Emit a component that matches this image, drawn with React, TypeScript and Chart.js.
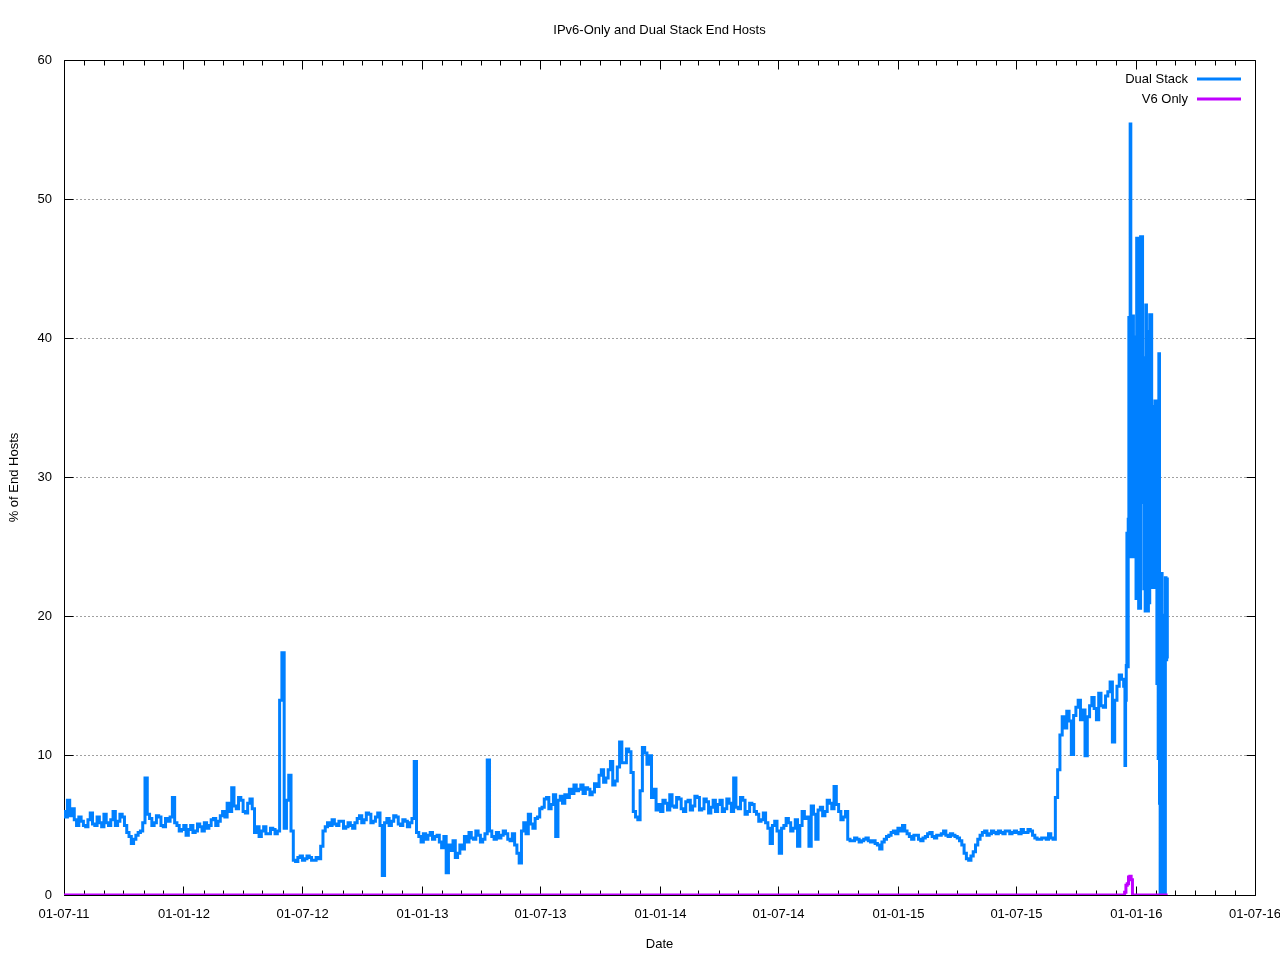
import React, { useEffect, useRef } from 'react';
import { Chart, registerables } from 'chart.js';

Chart.register(...registerables);

const TITLE = 'IPv6-Only and Dual Stack End Hosts';
const X_TITLE = 'Date';
const Y_TITLE = '% of End Hosts';
const SERIES_NAMES = ['Dual Stack', 'V6 Only'];
const SERIES_COLORS = ['#0080ff', '#c000ff'];

const X_TICK_LABELS = [
  '01-07-11', '01-01-12', '01-07-12', '01-01-13', '01-07-13', '01-01-14',
  '01-07-14', '01-01-15', '01-07-15', '01-01-16', '01-07-16',
];
const Y_MIN = 0;
const Y_MAX = 60;
const Y_STEP = 10;

// Dual Stack: half-weekly samples from 01-07-11 (day 0, 3.5-day step)
const DUAL_START_DAY = 0;
const DUAL_STEP = 3.5;
const dualHalfWeekly = [
  6.0, 5.6, 6.8, 5.7, 6.2, 5.4, 5.0, 5.6, 5.3, 5.0,
  4.9, 5.4, 5.9, 5.1, 5.0, 5.6, 5.2, 4.9, 5.8, 5.2,
  5.0, 5.4, 6.0, 5.0, 5.3, 5.8, 5.6, 5.0, 4.5, 4.2,
  3.7, 4.0, 4.3, 4.5, 4.6, 5.2, 8.4, 5.8, 5.5, 5.0,
  5.2, 5.7, 5.6, 5.0, 4.9, 5.5, 5.3, 5.6, 7.0, 5.2,
  5.0, 4.6, 4.7, 5.0, 4.3, 4.7, 5.0, 4.5, 4.6, 5.1,
  4.9, 4.6, 5.2, 4.8, 5.0, 5.4, 5.5, 5.0, 5.3, 5.7,
  6.0, 5.6, 6.6, 6.0, 7.7, 6.4, 6.2, 7.0, 6.8, 6.0,
  5.9, 6.6, 6.9, 6.2, 4.5, 4.9, 4.2, 4.6, 4.9, 4.4,
  4.4, 4.8, 4.7, 4.4, 4.6, 14.0, 17.4, 4.8, 6.8, 8.6,
  4.6, 2.5, 2.4, 2.7, 2.8, 2.5, 2.6, 2.8, 2.7, 2.5,
  2.5, 2.7, 2.6, 3.5, 4.6, 4.9, 5.2, 5.0, 5.4, 5.1,
  5.0, 5.3, 5.3, 4.8, 4.9, 5.2, 5.0, 4.8, 5.2, 5.5,
  5.7, 5.2, 5.4, 5.9, 5.8, 5.2, 5.3, 5.6, 5.9, 5.0,
  1.4, 5.2, 5.5, 5.0, 5.3, 5.7, 5.6, 5.1, 5.0, 5.4,
  5.3, 4.9, 5.2, 5.5, 9.6, 4.5, 4.2, 3.8, 4.4, 4.0,
  4.3, 4.5, 4.0, 4.2, 4.3, 3.8, 3.4, 4.2, 1.6, 3.6,
  3.2, 3.9, 2.7, 3.0, 3.6, 3.3, 4.2, 3.8, 4.5, 4.1,
  4.0, 4.6, 4.3, 3.8, 4.0, 4.4, 9.7, 4.6, 4.2, 4.0,
  4.5, 4.1, 4.3, 4.6, 4.4, 4.0, 3.9, 4.4, 3.6, 3.0,
  2.3, 4.6, 5.2, 4.4, 5.8, 5.1, 4.8, 5.5, 5.6, 6.2,
  6.3, 6.9, 7.0, 6.2, 6.5, 7.2, 4.2, 6.8, 7.1, 6.6,
  7.2, 7.0, 7.6, 7.3, 7.9, 7.5, 7.6, 7.9, 7.3, 7.7,
  7.6, 7.2, 7.4, 8.0, 7.8, 8.6, 9.0, 8.1, 8.4, 9.0,
  9.6, 7.9, 8.2, 9.2, 11.0, 9.5, 9.5, 10.5, 10.3, 8.8,
  6.0, 5.6, 5.4, 7.5, 10.6, 10.2, 9.4, 10.0, 7.0, 7.6,
  6.1, 6.5, 6.0, 6.8, 6.6, 6.1, 7.2, 6.4, 6.3, 7.0,
  6.9, 6.2, 6.0, 6.7, 6.8, 6.1, 6.4, 7.1, 7.0, 6.1,
  6.2, 6.9, 6.7, 5.9, 6.3, 6.8, 6.0, 6.5, 6.8, 6.0,
  6.2, 6.9, 6.6, 6.0, 8.4, 6.3, 6.2, 7.0, 6.8, 5.8,
  6.0, 6.6, 6.5, 6.0, 5.8, 5.3, 5.4, 5.9, 5.2, 4.8,
  3.7, 5.0, 5.3, 4.6, 3.0, 4.8, 5.0, 5.5, 5.2, 4.6,
  4.8, 5.4, 3.5, 5.0, 6.0, 5.5, 5.6, 3.5, 6.4, 5.8,
  4.0, 6.1, 6.3, 5.7, 6.0, 6.8, 6.6, 6.2, 7.8, 6.5,
  6.0, 5.4, 5.6, 6.0, 4.0, 3.9, 3.9, 4.1, 4.0, 3.8,
  3.9, 4.0, 4.1, 3.9, 3.8, 3.9, 3.7, 3.6, 3.3, 3.8,
  4.0, 4.2, 4.3, 4.5, 4.6, 4.4, 4.8, 4.6, 5.0, 4.6,
  4.4, 4.2, 4.0, 4.3, 4.3, 4.0, 3.9, 4.1, 4.2, 4.4,
  4.5, 4.2, 4.1, 4.3, 4.3, 4.4, 4.6, 4.3, 4.2, 4.4,
  4.3, 4.2, 4.1, 3.9, 3.6, 3.0, 2.6, 2.5, 2.8, 3.1,
  3.6, 4.0, 4.3, 4.5, 4.6, 4.3, 4.4, 4.6, 4.5, 4.4,
  4.6, 4.5, 4.4, 4.6, 4.6, 4.4, 4.5, 4.6, 4.5, 4.4,
  4.7, 4.5, 4.5, 4.7, 4.6, 4.3, 4.1, 4.0, 4.0, 4.1,
  4.1, 4.0, 4.4, 4.1, 4.0, 7.0, 9.0, 11.5, 12.8, 12.0,
  13.2, 12.5, 10.1, 12.9, 13.5, 14.0, 12.6, 13.3, 10.0, 12.8,
  13.6, 14.2, 13.4, 12.6, 14.5, 13.6, 13.5, 14.3, 14.6, 15.3,
  11.0, 14.0, 15.0, 15.8, 15.5,
];

// Dual Stack: daily samples over the end-of-2015 burst (from day 1627)
const DUAL_TAIL_START_DAY = 1627;
const DUAL_TAIL_STEP = 1;
const dualTail = [
  15.0, 9.3, 14.0, 16.5, 26.0, 16.4, 27.0, 41.5, 24.3, 55.4,
  26.0, 41.6, 24.3, 41.6, 24.3, 40.1, 26.0, 40.1, 21.3, 47.2,
  21.3, 47.2, 20.6, 40.0, 20.6, 47.3, 28.2, 47.3, 28.2, 38.6,
  22.0, 38.6, 20.4, 42.4, 21.4, 40.5, 20.4, 34.3, 21.0, 41.7,
  22.1, 41.7, 22.1, 33.0, 22.1, 35.1, 22.1, 35.5, 22.5, 35.5,
  15.2, 32.0, 9.8, 38.9, 6.6, 0, 0, 23.1, 6.6, 20.1,
  5.5, 0, 0, 22.8, 16.9, 22.7, 17.0,
];

// V6 Only: day offsets and values
const v6Days = [0, 1626, 1628, 1630, 1632, 1634, 1636, 1638, 1640, 1642, 1693];
const v6Values = [0, 0, 0.2, 0.7, 0.8, 1.3, 1.35, 1.1, 0, 0, 0];

const START_MS = Date.UTC(2011, 6, 1);
const DAY_MS = 86400000;
const FONT_FAMILY = '"Liberation Sans", Arial, sans-serif';

function dayFromLabel(label: string): number {
  const [d, m, y] = label.split('-').map(Number);
  return Math.round((Date.UTC(2000 + y, m - 1, d) - START_MS) / DAY_MS);
}

const MAJOR_DAYS = X_TICK_LABELS.map(dayFromLabel);
const X_MAX_DAY = MAJOR_DAYS[MAJOR_DAYS.length - 1];
const MINOR_DAYS: number[] = [];
for (let k = 0; k <= 60; k++) {
  const d = Math.round((Date.UTC(2011, 6 + k, 1) - START_MS) / DAY_MS);
  if (!MAJOR_DAYS.includes(d) && d <= X_MAX_DAY) MINOR_DAYS.push(d);
}

function buildDual() {
  const pts: { x: number; y: number }[] = [];
  dualHalfWeekly.forEach((v, i) => pts.push({ x: DUAL_START_DAY + i * DUAL_STEP, y: v }));
  dualTail.forEach((v, i) => pts.push({ x: DUAL_TAIL_START_DAY + i * DUAL_TAIL_STEP, y: v }));
  return pts;
}

function buildV6() {
  return v6Days.map((d, i) => ({ x: d, y: v6Values[i] }));
}

const framePlugin = {
  id: 'gnuFrame',
  beforeDatasetsDraw(chart: any) {
    const { ctx, chartArea: a, scales } = chart;
    const xs = scales.x;
    const ys = scales.y;
    const L = Math.floor(a.left) + 0.5;
    const R = Math.floor(a.right) + 0.5;
    const T = Math.floor(a.top) + 0.5;
    const B = Math.floor(a.bottom) + 0.5;
    ctx.save();
    ctx.strokeStyle = '#000';
    ctx.lineWidth = 1;
    ctx.setLineDash([]);
    ctx.beginPath();
    ctx.rect(L, T, R - L, B - T);
    ctx.stroke();
    ctx.beginPath();
    const major = 9;
    const minor = 5;
    MAJOR_DAYS.forEach((d) => {
      const px = Math.floor(xs.getPixelForValue(d)) + 0.5;
      ctx.moveTo(px, B); ctx.lineTo(px, B - major);
      ctx.moveTo(px, T); ctx.lineTo(px, T + major);
    });
    MINOR_DAYS.forEach((d) => {
      const px = Math.floor(xs.getPixelForValue(d)) + 0.5;
      ctx.moveTo(px, B); ctx.lineTo(px, B - minor);
      ctx.moveTo(px, T); ctx.lineTo(px, T + minor);
    });
    for (let v = Y_MIN; v <= Y_MAX; v += Y_STEP) {
      const py = Math.floor(ys.getPixelForValue(v)) + 0.5;
      ctx.moveTo(L, py); ctx.lineTo(L + major, py);
      ctx.moveTo(R, py); ctx.lineTo(R - major, py);
    }
    ctx.stroke();
    ctx.restore();
  },
  afterDatasetsDraw(chart: any) {
    const { ctx, chartArea: a } = chart;
    ctx.save();
    ctx.fillStyle = '#000';
    ctx.font = `13px ${FONT_FAMILY}`;
    ctx.textAlign = 'center';
    ctx.textBaseline = 'middle';
    ctx.fillText(TITLE, (a.left + a.right) / 2, 30);
    // legend (inside, top right)
    ctx.textAlign = 'right';
    SERIES_NAMES.forEach((name, i) => {
      const y = a.top + 19 + i * 20;
      ctx.fillStyle = '#000';
      ctx.fillText(name, a.right - 67, y);
      ctx.strokeStyle = SERIES_COLORS[i];
      ctx.lineWidth = 3;
      ctx.beginPath();
      ctx.moveTo(a.right - 58, y);
      ctx.lineTo(a.right - 14, y);
      ctx.stroke();
    });
    ctx.restore();
  },
};

export default function App() {
  const canvasRef = useRef<HTMLCanvasElement | null>(null);

  useEffect(() => {
    if (!canvasRef.current) return;
    const font = { family: FONT_FAMILY, size: 13 };
    const chart = new Chart(canvasRef.current, {
      type: 'line',
      data: {
        datasets: [
          {
            label: SERIES_NAMES[0],
            data: buildDual(),
            borderColor: SERIES_COLORS[0],
            backgroundColor: SERIES_COLORS[0],
            borderWidth: 3,
            pointRadius: 0,
            stepped: 'middle',
            fill: false,
            order: 1,
          },
          {
            label: SERIES_NAMES[1],
            data: buildV6(),
            borderColor: SERIES_COLORS[1],
            backgroundColor: SERIES_COLORS[1],
            borderWidth: 3,
            pointRadius: 0,
            stepped: 'middle',
            fill: false,
            order: 0,
          },
        ],
      },
      options: {
        responsive: false,
        animation: false,
        events: [],
        layout: { padding: { top: 60, right: 25, left: 0, bottom: 0 } },
        plugins: {
          legend: { display: false },
          title: { display: false },
          tooltip: { enabled: false },
        },
        scales: {
          x: {
            type: 'linear',
            min: 0,
            max: X_MAX_DAY,
            afterBuildTicks: (s: any) => {
              s.ticks = MAJOR_DAYS.map((v) => ({ value: v }));
            },
            afterFit: (s: any) => {
              s.height = 65;
              s.paddingLeft = 0;
              s.paddingRight = 0;
            },
            grid: { display: false, drawTicks: false },
            border: { display: false },
            ticks: {
              autoSkip: false,
              maxRotation: 0,
              minRotation: 0,
              padding: 12,
              color: '#000',
              font,
              callback: (_v: any, i: number) => X_TICK_LABELS[i] ?? '',
            },
            title: {
              display: true,
              text: X_TITLE,
              color: '#000',
              font,
              padding: { top: 0, bottom: 8 },
            },
          },
          y: {
            type: 'linear',
            min: Y_MIN,
            max: Y_MAX,
            afterFit: (s: any) => {
              s.width = 64;
              s.paddingTop = 0;
              s.paddingBottom = 0;
            },
            grid: { color: '#a0a0a0', lineWidth: 1, drawTicks: false },
            border: { display: false, dash: [2, 2] },
            ticks: { stepSize: Y_STEP, padding: 12, color: '#000', font },
            title: {
              display: true,
              text: Y_TITLE,
              color: '#000',
              font,
              padding: { top: 7, bottom: 0 },
            },
          },
        },
      },
      plugins: [framePlugin],
    });
    return () => chart.destroy();
  }, []);

  return (
    <div style={{ position: 'absolute', left: 0, top: 0, width: 1280, height: 960, background: '#fff' }}>
      <canvas ref={canvasRef} width={1280} height={960} style={{ display: 'block' }} />
    </div>
  );
}
